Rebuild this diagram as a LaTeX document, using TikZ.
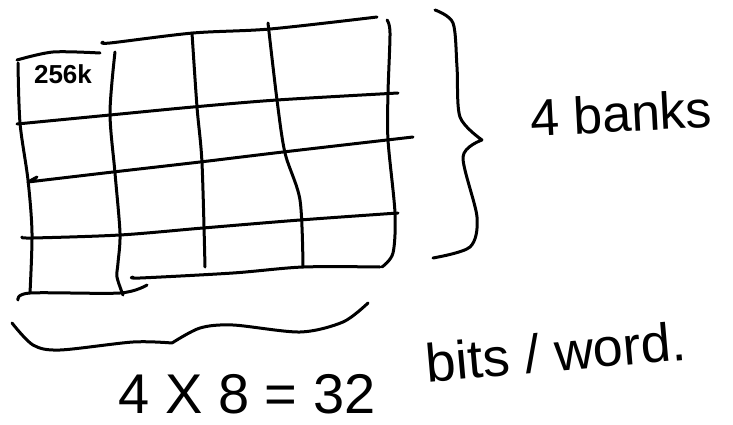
\documentclass[tikz,border=0pt]{standalone}
\usepackage{fontspec}
\setmainfont{Liberation Sans}
\usetikzlibrary{positioning}

\begin{document}
\begin{tikzpicture}[x=1pt,y=-1pt,
  pen/.style={line width=3pt,line cap=round,line join=round},
  scribble/.style={inner sep=0pt,font=\fontsize{#1}{#1}\selectfont}]
\useasboundingbox (0,0) rectangle (733,425);
% First column: one 256k chip
\draw[pen] plot[smooth] coordinates {(17,60) (53,52) (100,53)};
\draw[pen] plot[smooth] coordinates {(18,63) (20,123) (28,180) (32,233) (30,293)};
\draw[pen] plot[smooth] coordinates {(18,300) (30,293) (120,293) (147,285)};
\node[scribble=26] (chip) at (63,74) {\bfseries 256k};
% Remaining columns of the array
\draw[pen] plot[smooth] coordinates {(103,42) (110,43) (193,33) (270,29) (377,17)};
\draw[pen] plot[smooth] coordinates {(115,52) (110,113) (115,173) (120,233) (118,263) (117,277) (123,295)};
\draw[pen] plot[smooth] coordinates {(192,33) (197,107) (202,163) (205,267)};
\draw[pen] plot[smooth] coordinates {(268,23) (277,100) (285,153) (300,200) (303,267)};
\draw[pen] plot[smooth] coordinates {(387,20) (390,33) (388,93) (388,140) (395,213) (393,253) (382,267)};
\draw[pen] plot[smooth] coordinates {(133,277) (140,278) (233,273) (303,267) (380,267)};
% Rows (banks)
\draw[pen] plot[smooth] coordinates {(17,124) (110,115) (193,107) (277,100) (398,93)};
\draw[pen] (37,177) -- (28,182) plot[smooth] coordinates {(28,182) (113,172) (200,162) (283,152) (413,137)};
\draw[pen] plot[smooth] coordinates {(22,237) (32,238) (120,235) (203,228) (300,220) (398,213)};
% Brace over the rows
\draw[pen] plot[smooth] coordinates {(435,10) (453,23) (457,67) (460,117) (482,140)}
  plot[smooth] coordinates {(482,140) (463,157) (477,217) (470,247) (433,258)};
\node[scribble=52,rotate=3] (banks) at (621,113) {4 banks};
% Brace under the columns
\draw[pen] plot[smooth] coordinates {(12,323) (33,345) (60,350) (133,342) (172,343)}
  plot[smooth] coordinates {(172,343) (200,328) (233,325) (300,332) (343,322) (368,303)};
\node[scribble=56] (width) at (247,394) {4 X 8 = 32};
\node[scribble=54,rotate=5] (word) at (556,352) {bits / word.};
\end{tikzpicture}
\end{document}
